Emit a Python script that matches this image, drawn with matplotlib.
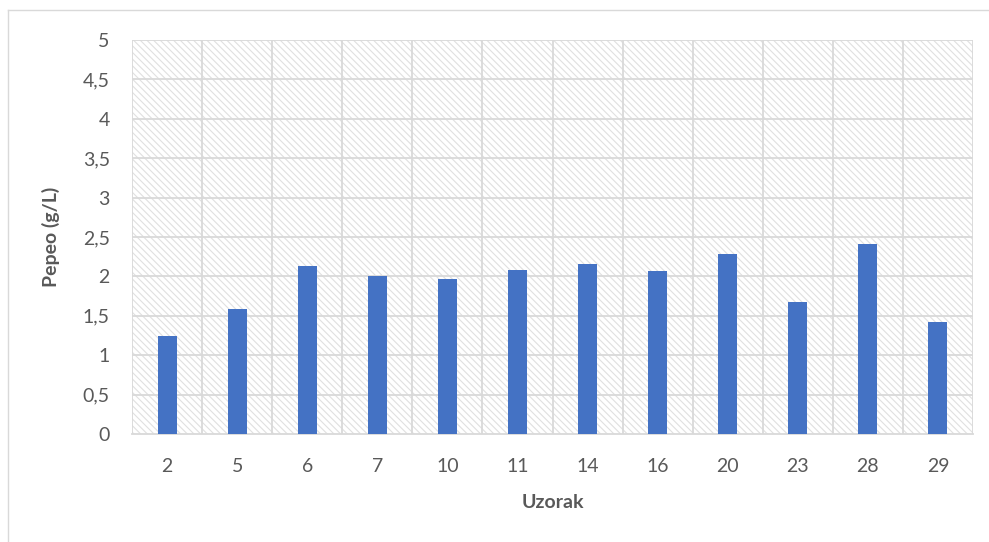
import matplotlib.pyplot as plt
from matplotlib.patches import Rectangle
from matplotlib.lines import Line2D

plt.rcParams['font.family'] = ['Lato', 'DejaVu Sans']
plt.rcParams['hatch.linewidth'] = 0.8

# Data
samples = ['2', '5', '6', '7', '10', '11', '14', '16', '20', '23', '28', '29']
ash = [1.24, 1.59, 2.13, 2.01, 1.97, 2.08, 2.16, 2.07, 2.28, 1.67, 2.41, 1.42]
y_ticks = [0, 0.5, 1, 1.5, 2, 2.5, 3, 3.5, 4, 4.5, 5]
y_labels = ['0', '0,5', '1', '1,5', '2', '2,5', '3', '3,5', '4', '4,5', '5']

grid_col = '#d9d9d9'
text_col = '#595959'

fig = plt.figure(figsize=(9.89, 5.42), dpi=100)
ax = fig.add_axes([132 / 989, 1 - 434 / 542, (973 - 132) / 989, (434 - 40) / 542])

# outer chart frame
fig.add_artist(Line2D([8 / 989, 1], [1 - 10 / 542, 1 - 10 / 542], color=grid_col, lw=1))
fig.add_artist(Line2D([8 / 989, 8 / 989], [0, 1 - 10 / 542], color=grid_col, lw=1))

# hatched plot area background
ax.add_patch(Rectangle((0, 0), 1, 1, transform=ax.transAxes, facecolor='white',
                       edgecolor='#e0e0e0', hatch='\\\\\\\\\\', lw=0, zorder=0))

x = range(len(samples))
ax.bar(x, ash, width=0.27, color='#4472c4', zorder=3)

ax.set_xlim(-0.5, len(samples) - 0.5)
ax.set_ylim(0, 5)
ax.set_yticks(y_ticks)
ax.set_yticklabels(y_labels)
ax.set_xticks(list(x))
ax.set_xticklabels(samples)

# grid lines: horizontal at each tick, vertical between categories
for y in y_ticks[1:]:
    ax.axhline(y, color=grid_col, lw=1.3, zorder=1)
for i in range(len(samples) + 1):
    ax.axvline(i - 0.5, color=grid_col, lw=1.3, zorder=1)

for s in ['top', 'right', 'left']:
    ax.spines[s].set_visible(False)
ax.spines['bottom'].set_color(grid_col)
ax.spines['bottom'].set_linewidth(1.3)
ax.tick_params(length=0, labelsize=14, labelcolor=text_col)
ax.tick_params(axis='x', pad=17)
ax.tick_params(axis='y', pad=16)

ax.set_xlabel('Uzorak', fontsize=14, fontweight='bold', color=text_col, labelpad=14)
ax.set_ylabel('Pepeo (g/L)', fontsize=14, fontweight='bold', color=text_col, labelpad=16)

plt.savefig('out.png', dpi=100)
